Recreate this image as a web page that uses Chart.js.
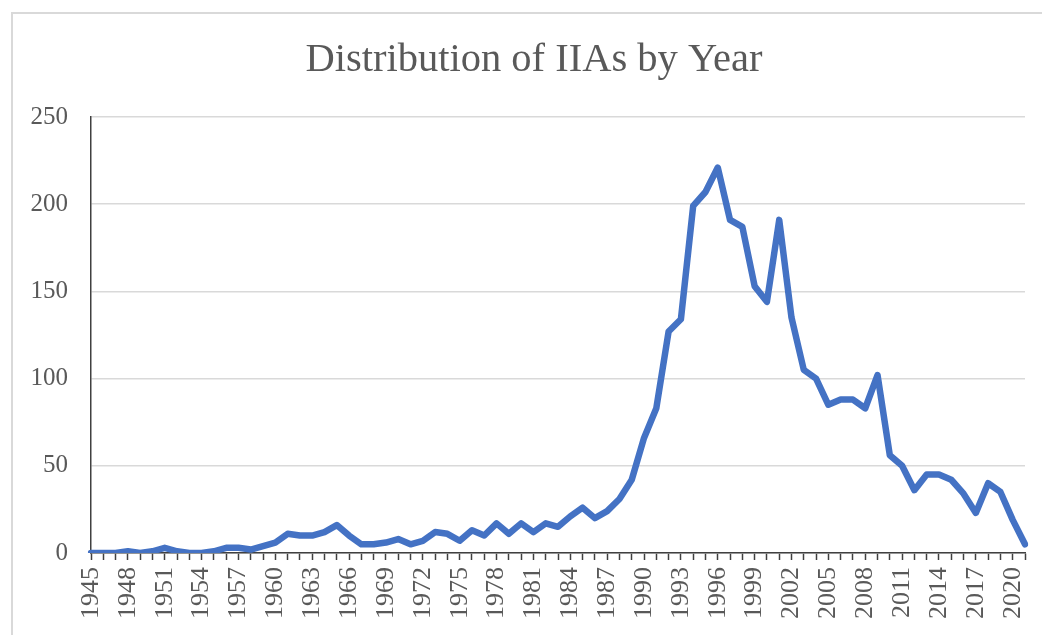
<!DOCTYPE html>
<html>
<head>
<meta charset="utf-8">
<script src="https://cdn.jsdelivr.net/npm/chart.js@4.4.1/dist/chart.umd.min.js"></script>
<style>
  body { margin: 0; background: #fff; }
  #wrap { width: 1042px; height: 635px; position: relative; }
</style>
</head>
<body>
<div id="wrap"><canvas id="myChart"></canvas></div>
<script>
var years = [1945, 1946, 1947, 1948, 1949, 1950, 1951, 1952, 1953, 1954,
  1955, 1956, 1957, 1958, 1959, 1960, 1961, 1962, 1963, 1964,
  1965, 1966, 1967, 1968, 1969, 1970, 1971, 1972, 1973, 1974,
  1975, 1976, 1977, 1978, 1979, 1980, 1981, 1982, 1983, 1984,
  1985, 1986, 1987, 1988, 1989, 1990, 1991, 1992, 1993, 1994,
  1995, 1996, 1997, 1998, 1999, 2000, 2001, 2002, 2003, 2004,
  2005, 2006, 2007, 2008, 2009, 2010, 2011, 2012, 2013, 2014,
  2015, 2016, 2017, 2018, 2019, 2020, 2021];

var iias = [0, 0, 0, 1, 0, 1, 3, 1, 0, 0,
  1, 3, 3, 2, 4, 6, 11, 10, 10, 12,
  16, 10, 5, 5, 6, 8, 5, 7, 12, 11,
  7, 13, 10, 17, 11, 17, 12, 17, 15, 21,
  26, 20, 24, 31, 42, 66, 83, 127, 134, 199,
  207, 221, 191, 187, 153, 144, 191, 135, 105, 100,
  85, 88, 88, 83, 102, 56, 50, 36, 45, 45,
  42, 34, 23, 40, 35, 19, 5];

// only every third year gets a label
var labelYears = [1945, 1948, 1951, 1954, 1957, 1960, 1963, 1966, 1969, 1972,
  1975, 1978, 1981, 1984, 1987, 1990, 1993, 1996, 1999, 2002,
  2005, 2008, 2011, 2014, 2017, 2020];

var yTicks = [0, 50, 100, 150, 200, 250];

var serif = '"Liberation Serif", "Times New Roman", serif';

var frame = {
  id: 'frame',
  beforeDraw: function(chart) {
    var ctx = chart.ctx;
    ctx.save();
    ctx.strokeStyle = '#d9d9d9';
    ctx.lineWidth = 2;
    ctx.strokeRect(12, 13, 1100, 700);
    ctx.restore();
  }
};

var ctx = document.getElementById('myChart');
var myChart = new Chart(ctx, {
  type: 'line',
  data: {
    labels: years,
    datasets: [{
      label: 'IIAs',
      data: iias,
      borderColor: '#4472C4',
      backgroundColor: '#4472C4',
      borderWidth: 6.5,
      borderJoinStyle: 'round',
      borderCapStyle: 'round',
      pointRadius: 0,
      tension: 0,
      fill: false
    }]
  },
  options: {
    responsive: true,
    maintainAspectRatio: false,
    animation: false,
    layout: { padding: { top: 12, left: 26, right: 0, bottom: 0 } },
    plugins: {
      legend: { display: false },
      tooltip: { enabled: false },
      title: {
        display: true,
        text: 'Distribution of IIAs by Year',
        color: '#595959',
        font: { family: serif, size: 40.5, weight: 'normal' },
        padding: { top: 24, bottom: 32.4 }
      }
    },
    scales: {
      x: {
        offset: false,
        grid: {
          display: true,
          drawOnChartArea: false,
          drawTicks: true,
          tickLength: 7,
          tickWidth: 1.5,
          tickColor: '#404040'
        },
        border: { display: true, color: '#404040', width: 1.5 },
        ticks: {
          autoSkip: false,
          minRotation: 90,
          maxRotation: 90,
          padding: 7,
          color: '#595959',
          font: { family: serif, size: 26 },
          callback: function(val, index) {
            var y = years[index];
            return labelYears.indexOf(y) >= 0 ? String(y) : '';
          }
        },
        afterFit: function(scale) {
          scale.height = 82;
          scale.paddingRight = 17;
        }
      },
      y: {
        min: yTicks[0],
        max: yTicks[yTicks.length - 1],
        grid: { color: '#d9d9d9', lineWidth: 1.5, drawTicks: false },
        border: { display: true, color: '#404040', width: 1.5 },
        ticks: {
          stepSize: 50,
          padding: 23,
          color: '#595959',
          font: { family: serif, size: 25 }
        },
        afterFit: function(scale) { scale.width = 65; }
      }
    }
  },
  plugins: [frame]
});
</script>
</body>
</html>
